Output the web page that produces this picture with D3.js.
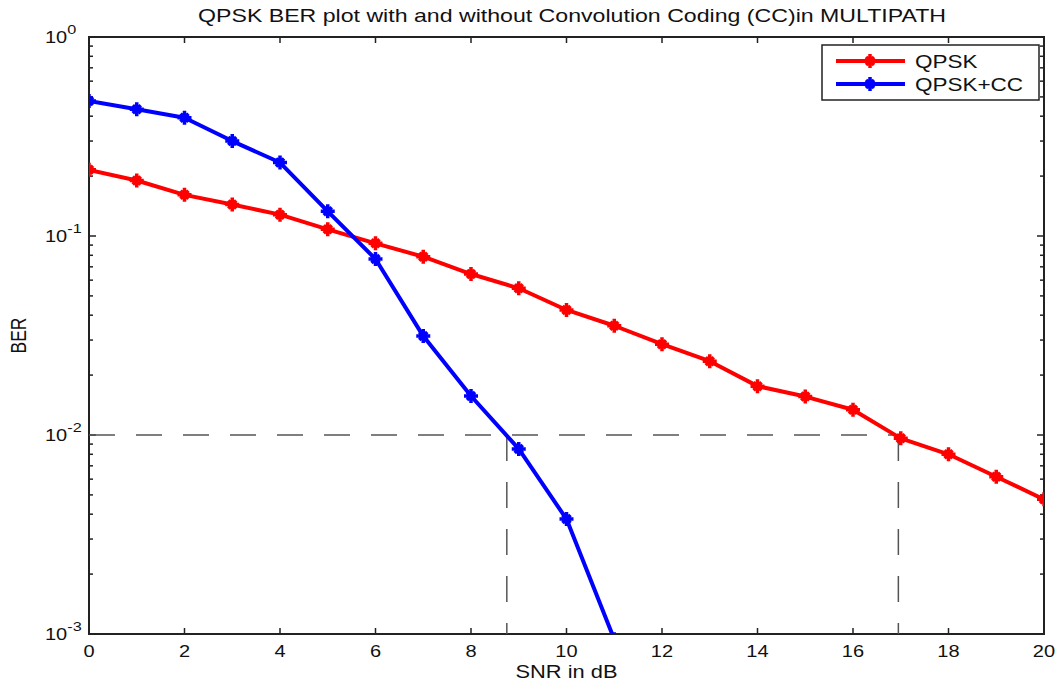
<!DOCTYPE html>
<html>
<head>
<meta charset="utf-8">
<script src="https://cdn.jsdelivr.net/npm/d3@7"></script>
<style>
  body { margin: 0; background: #fff; }
  svg text { font-family: "Liberation Sans", Arial, sans-serif; fill: #111; }
</style>
</head>
<body>
<svg id="chart" width="1064" height="686"></svg>
<script>
// data
var snr = [0,1,2,3,4,5,6,7,8,9,10,11,12,13,14,15,16,17,18,19,20];
var berQpsk = [0.215,0.190,0.161,0.144,0.128,0.108,0.0919,0.0787,0.0644,0.0546,0.0425,
               0.0354,0.0286,0.0235,0.0176,0.0156,0.0134,0.00962,0.0080,0.00617,0.00475];
var snrCC = [0,1,2,3,4,5,6,7,8,9,10,11];
var berCC = [0.477,0.433,0.393,0.300,0.234,0.133,0.0766,0.0314,0.0157,0.00851,0.00378,0.00094];
var xTicks = [0,2,4,6,8,10,12,14,16,18,20];
var yTicks = [1e-3,1e-2,1e-1,1];
var refBer = 1e-2;
var refSnr = [8.75, 16.95];

var svg = d3.select("#chart");
var mL = 89, mR = 1044, mT = 37, mB = 634;
var sx = 1.25; // the original picture is stretched sideways

var x = d3.scaleLinear().domain([0,20]).range([mL,mR]);
var y = d3.scaleLog().domain([1e-3,1]).range([mB,mT]);

// text squeezed out sideways like the original
function label(px, py, str, size, anchor, rot){
  var g = svg.append("g").attr("transform","translate("+px+","+py+") scale("+sx+",1)"+(rot ? " rotate("+rot+")" : ""));
  return g.append("text").attr("font-size",size).attr("text-anchor",anchor||"start").text(str);
}

svg.append("clipPath").attr("id","clip")
  .append("rect").attr("x",mL).attr("y",mT).attr("width",mR-mL).attr("height",mB-mT);

// minor ticks for log axis
var minor = [];
[1e-3,1e-2,1e-1].forEach(function(d){ for (var k=2;k<10;k++) minor.push(d*k); });

var ax = svg.append("g").attr("stroke","#222").attr("stroke-width",1.5);
ax.append("rect").attr("x",mL).attr("y",mT).attr("width",mR-mL).attr("height",mB-mT)
  .attr("fill","none").attr("stroke-width",2);

xTicks.forEach(function(d){
  ax.append("line").attr("x1",x(d)).attr("x2",x(d)).attr("y1",mB).attr("y2",mB-6);
  ax.append("line").attr("x1",x(d)).attr("x2",x(d)).attr("y1",mT).attr("y2",mT+6);
});
yTicks.forEach(function(d){
  ax.append("line").attr("x1",mL).attr("x2",mL+7).attr("y1",y(d)).attr("y2",y(d));
  ax.append("line").attr("x1",mR).attr("x2",mR-7).attr("y1",y(d)).attr("y2",y(d));
});
minor.forEach(function(d){
  ax.append("line").attr("x1",mL).attr("x2",mL+4).attr("y1",y(d)).attr("y2",y(d));
  ax.append("line").attr("x1",mR).attr("x2",mR-4).attr("y1",y(d)).attr("y2",y(d));
});

// tick labels
xTicks.forEach(function(d){ label(x(d), mB+23, d, 16, "middle"); });
yTicks.forEach(function(d){
  var t = label(45, y(d)+6, "10", 16);
  t.append("tspan").attr("dy",-9).attr("font-size",13).text(Math.round(Math.log10(d)));
});

// reference dashed lines
var ref = svg.append("g").attr("stroke","#555").attr("stroke-width",1.5).attr("stroke-dasharray","26,21").attr("fill","none");
ref.append("line").attr("x1",x(0)).attr("x2",x(refSnr[1])).attr("y1",y(refBer)).attr("y2",y(refBer));
refSnr.forEach(function(s){
  ref.append("line").attr("x1",x(s)).attr("x2",x(s)).attr("y1",y(refBer)).attr("y2",mB);
});

// series
var line = d3.line().x(d=>x(d[0])).y(d=>y(d[1]));
var markPath = "M-7,0L7,0M0,-7L0,7M-4,-4L4,4M-4,4L4,-4";

function drawSeries(xs, ys, color){
  var pts = xs.map((d,i)=>[d,ys[i]]);
  var g = svg.append("g").attr("clip-path","url(#clip)");
  g.append("path").datum(pts).attr("d",line).attr("fill","none")
    .attr("stroke",color).attr("stroke-width",4).attr("stroke-linejoin","round");
  g.selectAll("path.m").data(pts).join("path").attr("class","m")
    .attr("transform",d=>"translate("+x(d[0])+","+y(d[1])+")")
    .attr("d",markPath).attr("stroke",color).attr("stroke-width",3.5).attr("fill","none");
}
drawSeries(snr, berQpsk, "#ff0000");
drawSeries(snrCC, berCC, "#0000ff");

// title and axis names
label(572, 22, "QPSK BER plot with and without Convolution Coding (CC)in MULTIPATH", 18.5, "middle");
label((mL+mR)/2, 678, "SNR in dB", 17.5, "middle");
label(26, (mT+mB)/2, "BER", 17.5, "middle", -90);

// legend
var lg = svg.append("g");
lg.append("rect").attr("x",822).attr("y",45).attr("width",217).attr("height",55)
  .attr("fill","#fff").attr("stroke","#222").attr("stroke-width",1.5);
[["QPSK","#ff0000",61],["QPSK+CC","#0000ff",84]].forEach(function(e){
  lg.append("line").attr("x1",836).attr("x2",905).attr("y1",e[2]).attr("y2",e[2])
    .attr("stroke",e[1]).attr("stroke-width",4);
  lg.append("path").attr("d",markPath).attr("transform","translate(870,"+e[2]+")")
    .attr("stroke",e[1]).attr("stroke-width",3.5).attr("fill","none");
  label(915, e[2]+7, e[0], 18);
});
</script>
</body>
</html>
